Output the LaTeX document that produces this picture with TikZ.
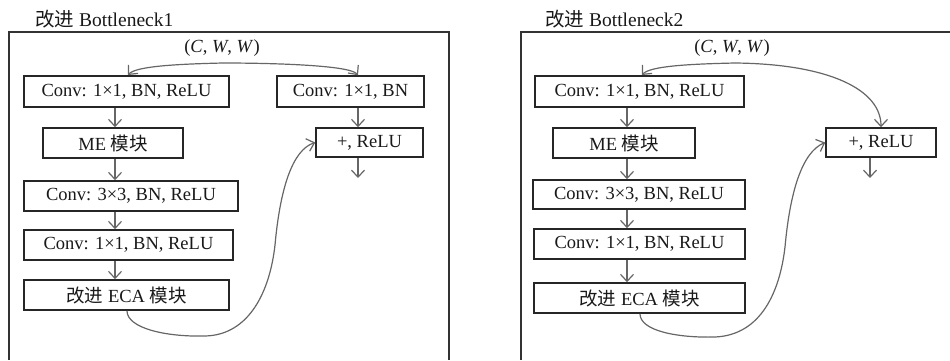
\documentclass[tikz,border=0pt]{standalone}
\usepackage{fontspec}
\setmainfont{Liberation Serif}
\newfontfamily\cjk{Noto Sans CJK SC}
\usetikzlibrary{arrows.meta}
\begin{document}
\begin{tikzpicture}[x=1pt,y=-1pt,
  blk/.style={draw=black!85, line width=1.6pt, inner sep=0pt, text=black!90, font=\fontsize{18.5}{20}\selectfont},
  lbl/.style={inner sep=0pt, text=black!90, font=\fontsize{18.5}{20}\selectfont},
  arr/.style={draw=black!60, line width=1.2pt, -{Straight Barb[length=7pt,width=13pt]}},
  frm/.style={draw=black!80, line width=1.5pt},
  ttl/.style={anchor=west, inner sep=0pt, text=black!90, font=\fontsize{19.5}{21}\selectfont}]
\useasboundingbox (0,0) rectangle (950,360);
% frames
\draw[frm] (9,360) -- (9,32) -- (449,32) -- (449,360);
\draw[frm] (521,360) -- (521,32) -- (950,32);
\node[ttl] (tL) at (35,19) {{\cjk 改进} Bottleneck1};
\node[ttl] (tR) at (545,19) {{\cjk 改进} Bottleneck2};
% ---------- left panel ----------
\node[lbl] (cwL) at (222,48) {(\textit{C}, \textit{W}, \textit{W})};
\node[blk, minimum width=205pt, minimum height=31pt] (L1) at (126.5,91.5) {Conv: 1×1, BN, ReLU};
\node[blk, minimum width=140pt, minimum height=30pt] (L2) at (113,143) {ME {\cjk 模块}};
\node[blk, minimum width=214pt, minimum height=30pt] (L3) at (131,196) {Conv: 3×3, BN, ReLU};
\node[blk, minimum width=209pt, minimum height=30pt] (L4) at (128.5,245) {Conv: 1×1, BN, ReLU};
\node[blk, minimum width=205pt, minimum height=30pt] (L5) at (126.5,295) {{\cjk 改进} ECA {\cjk 模块}};
\node[blk, minimum width=147pt, minimum height=31pt] (LR1) at (350.5,91.5) {Conv: 1×1, BN};
\node[blk, minimum width=107pt, minimum height=29pt] (LR2) at (369.5,142.5) {+, ReLU};
\coordinate (cL) at (115,0);
\coordinate (cLR) at (358,0);
\coordinate (tLL) at (128,75);
\coordinate (sL) at (223,63);
\coordinate (eL) at (127,0);
\coordinate (oL) at (358,178);
\draw[arr] (L1.south -| cL) -- (L2.north -| cL);
\draw[arr] (L2.south -| cL) -- (L3.north -| cL);
\draw[arr] (L3.south -| cL) -- (L4.north -| cL);
\draw[arr] (L4.south -| cL) -- (L5.north -| cL);
\draw[arr] (LR1.south -| cLR) -- (LR2.north -| cLR);
\draw[arr] (LR2.south -| cLR) -- (oL);
\draw[arr] (sL) .. controls (180,64) and (136,66) .. (tLL);
\draw[arr] (sL) .. controls (270,63) and (350,65) .. (LR1.north -| cLR);
\draw[arr] (L5.south -| eL) .. controls (127,328) and (165,337) .. (205,336)
  .. controls (250,335) and (270,290) .. (275,245)
  .. controls (280,190) and (292,150) .. (LR2.west);
% ---------- right panel ----------
\node[lbl] (cwR) at (732,48) {(\textit{C}, \textit{W}, \textit{W})};
\node[blk, minimum width=209pt, minimum height=31pt] (R1) at (639.5,91.5) {Conv: 1×1, BN, ReLU};
\node[blk, minimum width=142pt, minimum height=30pt] (R2) at (624,143) {ME {\cjk 模块}};
\node[blk, minimum width=212pt, minimum height=29pt] (R3) at (639,194.5) {Conv: 3×3, BN, ReLU};
\node[blk, minimum width=211pt, minimum height=30pt] (R4) at (639.5,244) {Conv: 1×1, BN, ReLU};
\node[blk, minimum width=211pt, minimum height=30pt] (R5) at (639.5,298) {{\cjk 改进} ECA {\cjk 模块}};
\node[blk, minimum width=110pt, minimum height=29pt] (R6) at (881,142.5) {+, ReLU};
\coordinate (cR) at (627,0);
\coordinate (cRR) at (870,0);
\coordinate (tRL) at (642,75);
\coordinate (sR) at (735,63);
\coordinate (eR) at (640,0);
\coordinate (oR) at (870,178);
\draw[arr] (R1.south -| cR) -- (R2.north -| cR);
\draw[arr] (R2.south -| cR) -- (R3.north -| cR);
\draw[arr] (R3.south -| cR) -- (R4.north -| cR);
\draw[arr] (R4.south -| cR) -- (R5.north -| cR);
\draw[arr] (R6.south -| cRR) -- (oR);
\draw[arr] (sR) .. controls (690,64) and (650,66) .. (tRL);
\draw[arr] (sR) .. controls (830,64) and (881,90) .. (R6.north);
\draw[arr] (R5.south -| eR) .. controls (640,331) and (678,338) .. (715,337)
  .. controls (762,335) and (780,290) .. (785,247)
  .. controls (790,192) and (802,152) .. (R6.west);
\end{tikzpicture}
\end{document}
